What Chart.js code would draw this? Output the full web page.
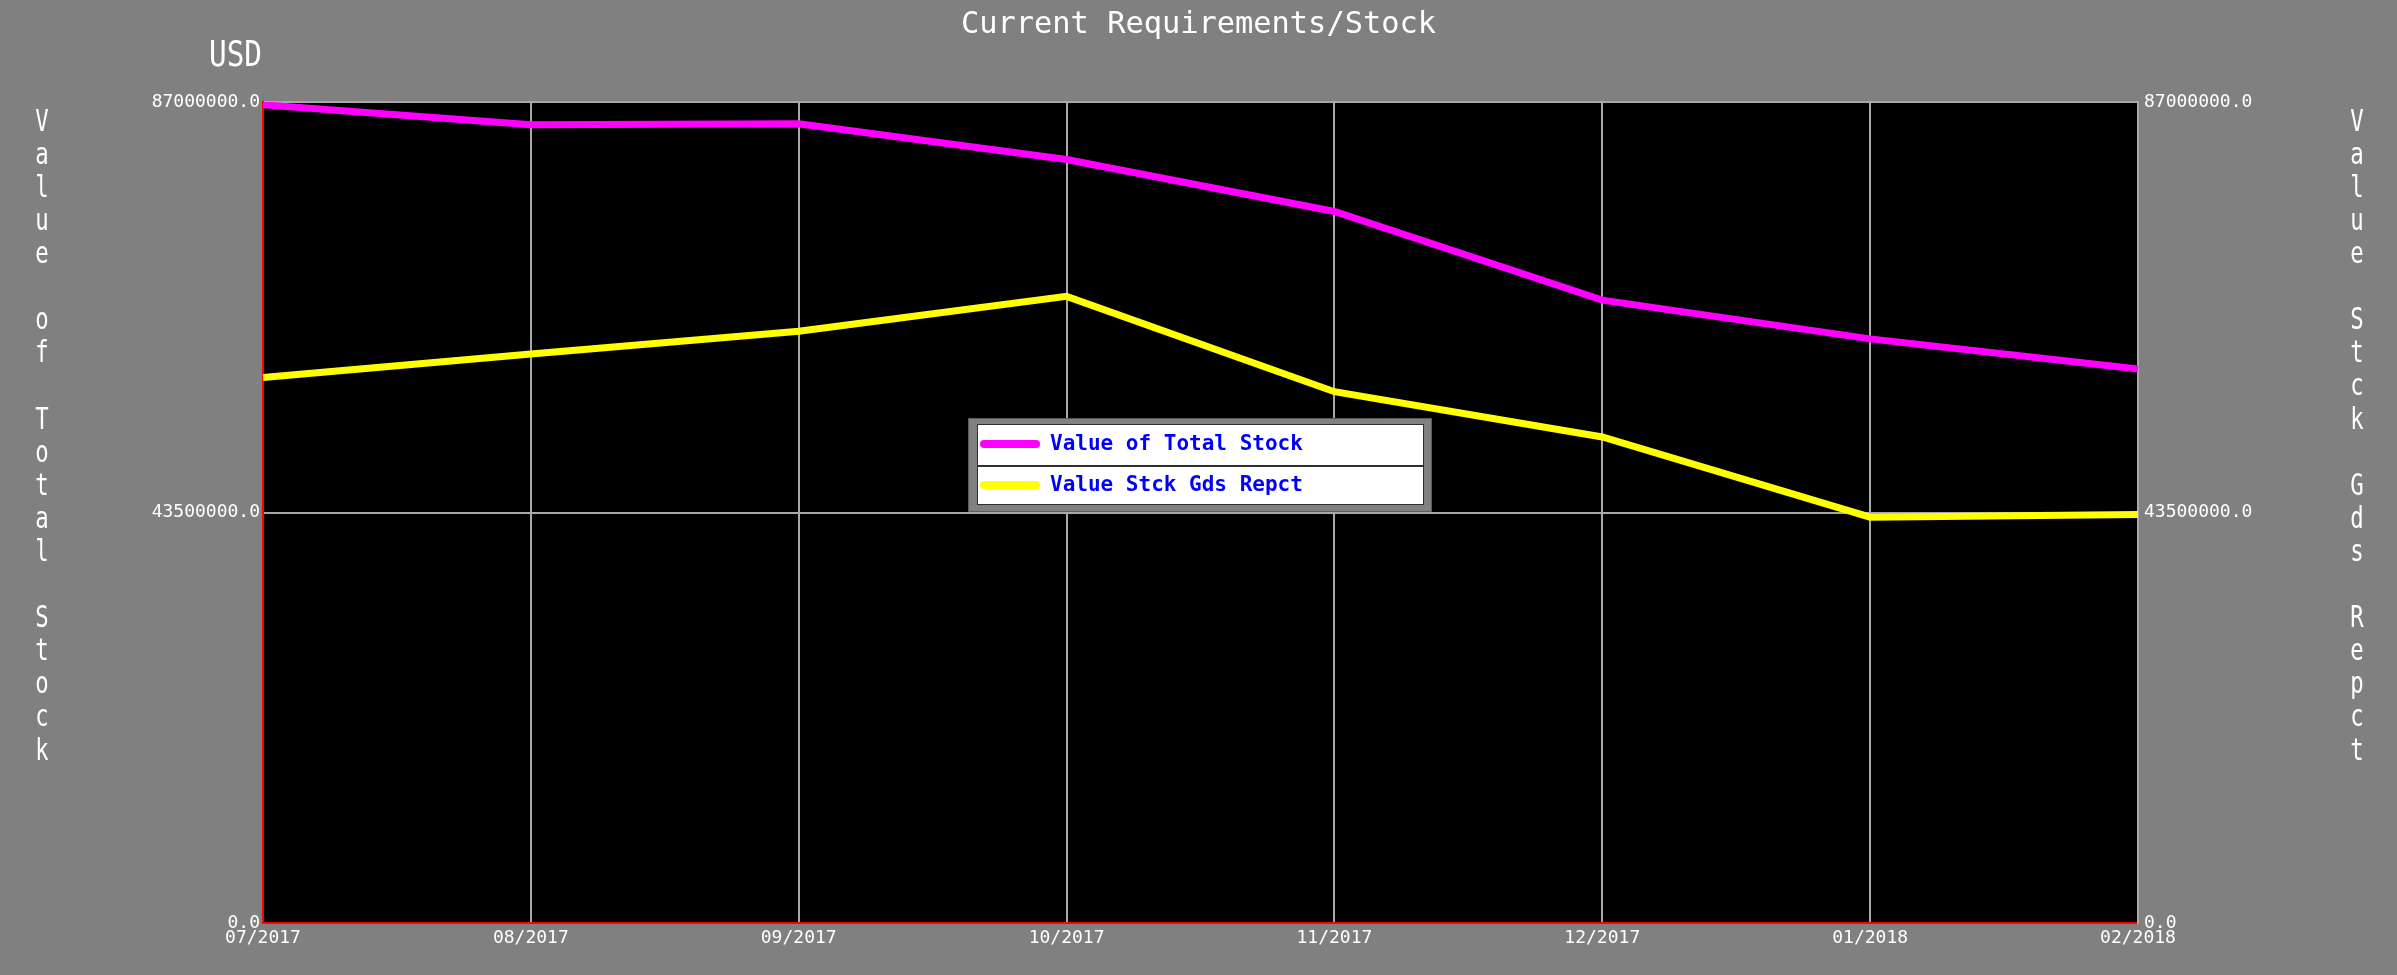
<!DOCTYPE html>
<html><head><meta charset="utf-8">
<script src="https://cdn.jsdelivr.net/npm/chart.js@4"></script>
<style>html,body{margin:0;padding:0;background:#808080;overflow:hidden}canvas{display:block}</style>
</head><body>
<canvas id="c" width="2397" height="975"></canvas>
<script>
// ---- data ----
const categories = ['07/2017','08/2017','09/2017','10/2017','11/2017','12/2017','01/2018','02/2018'];
const valueTotalStock = [86700000, 84600000, 84700000, 80900000, 75400000, 66000000, 61900000, 58700000];
const valueStckGdsRepct = [57800000, 60300000, 62700000, 66400000, 56300000, 51500000, 43000000, 43300000];
const yTicks = [0, 43500000, 87000000];
const seriesLabels = ['Value of Total Stock', 'Value Stck Gds Repct'];
const chartTitle = 'Current Requirements/Stock';
const unitLabel = 'USD';
const leftAxisTitle = 'Value of Total Stock';
const rightAxisTitle = 'Value Stck Gds Repct';

// ---- styles ----
const MONO = '"DejaVu Sans Mono"';
const colors = ['#ff00ff', '#ffff00'];
const gridColor = '#a9a9a9';

function fitText(ctx, text, x, y, font, width, align) {
  ctx.save();
  ctx.font = font;
  const w = ctx.measureText(text).width;
  const s = width ? width / w : 1;
  ctx.translate(x, y);
  ctx.scale(s, 1);
  ctx.textAlign = align;
  ctx.textBaseline = 'alphabetic';
  ctx.fillText(text, 0, 0);
  ctx.restore();
}

const decorPlugin = {
  id: 'decor',
  beforeDraw(chart) {
    const ctx = chart.ctx, a = chart.chartArea;
    ctx.save();
    ctx.fillStyle = '#808080';
    ctx.fillRect(0, 0, chart.width, chart.height);
    ctx.fillStyle = '#000000';
    ctx.fillRect(a.left, a.top, a.right - a.left, a.bottom - a.top);
    ctx.restore();
  },
  afterDraw(chart) {
    const ctx = chart.ctx;
    ctx.save();
    ctx.fillStyle = '#ffffff';
    // title
    fitText(ctx, chartTitle, 1198.5, 33, '30px ' + MONO, 475, 'center');
    // unit
    fitText(ctx, unitLabel, 262, 66, '36px ' + MONO, 53, 'right');
    // vertical axis titles
    const drawVertical = (text, x) => {
      ctx.save();
      ctx.font = '31px ' + MONO;
      ctx.textAlign = 'center';
      ctx.textBaseline = 'alphabetic';
      for (let i = 0; i < text.length; i++) {
        const ch = text[i];
        if (ch === ' ') continue;
        ctx.save();
        ctx.translate(x, 130.6 + i * 33.1);
        ctx.scale(0.72, 1);
        ctx.fillText(ch, 0, 0);
        ctx.restore();
      }
      ctx.restore();
    };
    drawVertical(leftAxisTitle, 42);
    drawVertical(rightAxisTitle, 2357);

    // legend
    const L = {x: 968, y: 418, w: 464, h: 94};
    ctx.fillStyle = '#808080';
    ctx.fillRect(L.x, L.y, L.w, L.h);
    ctx.strokeStyle = '#5c5c5c';
    ctx.lineWidth = 1;
    ctx.strokeRect(L.x + 0.5, L.y + 0.5, L.w - 1, L.h - 1);
    const I = {x: 977, y: 424, w: 447, h: 81};
    ctx.fillStyle = '#ffffff';
    ctx.fillRect(I.x, I.y, I.w, I.h);
    ctx.strokeStyle = '#303030';
    ctx.strokeRect(I.x + 0.5, I.y + 0.5, I.w - 1, I.h - 1);
    ctx.fillStyle = '#303030';
    ctx.fillRect(I.x, 465, I.w, 2);
    const rowY = [444, 485];
    chart.data.datasets.forEach((ds, i) => {
      ctx.strokeStyle = ds.borderColor;
      ctx.lineWidth = 8;
      ctx.lineCap = 'round';
      ctx.beginPath();
      ctx.moveTo(984, rowY[i]);
      ctx.lineTo(1036, rowY[i]);
      ctx.stroke();
      ctx.fillStyle = '#0000ff';
      ctx.font = 'bold 21px ' + MONO;
      ctx.textAlign = 'left';
      ctx.textBaseline = 'middle';
      ctx.fillText(ds.label, 1050, rowY[i] + 1);
    });
    ctx.restore();
  }
};

const yTickCfg = {
  color: '#ffffff',
  font: {family: 'DejaVu Sans Mono', size: 18},
  callback: v => Number(v).toFixed(1),
};

new Chart(document.getElementById('c'), {
  type: 'line',
  data: {
    labels: categories,
    datasets: [
      {label: seriesLabels[0], data: valueTotalStock, borderColor: colors[0], backgroundColor: colors[0], borderWidth: 7, pointRadius: 0, tension: 0, yAxisID: 'y'},
      {label: seriesLabels[1], data: valueStckGdsRepct, borderColor: colors[1], backgroundColor: colors[1], borderWidth: 7, pointRadius: 0, tension: 0, yAxisID: 'y'}
    ]
  },
  options: {
    responsive: false,
    devicePixelRatio: 1,
    animation: false,
    layout: {padding: {top: 102, left: 0, right: 0, bottom: 0}},
    plugins: {legend: {display: false}, title: {display: false}, tooltip: {enabled: false}},
    scales: {
      x: {
        offset: false,
        grid: {color: gridColor, lineWidth: 2, drawTicks: false},
        border: {color: '#ff0000', width: 2},
        ticks: {color: '#ffffff', font: {family: 'DejaVu Sans Mono', size: 18}, padding: 5, maxRotation: 0, autoSkip: false},
        afterFit(s) { s.height = 52; }
      },
      y: {
        position: 'left', min: 0, max: 87000000,
        afterBuildTicks(s) { s.ticks = yTicks.map(v => ({value: v})); },
        grid: {color: gridColor, lineWidth: 2, drawTicks: false},
        border: {color: '#ff0000', width: 2},
        ticks: Object.assign({padding: 3}, yTickCfg),
        afterFit(s) { s.width = 263; }
      },
      y1: {
        position: 'right', min: 0, max: 87000000,
        afterBuildTicks(s) { s.ticks = yTicks.map(v => ({value: v})); },
        grid: {display: false, drawTicks: false},
        border: {color: gridColor, width: 2},
        ticks: Object.assign({padding: 6}, yTickCfg),
        afterFit(s) { s.width = 259; }
      }
    }
  },
  plugins: [decorPlugin]
});
</script>
</body></html>
